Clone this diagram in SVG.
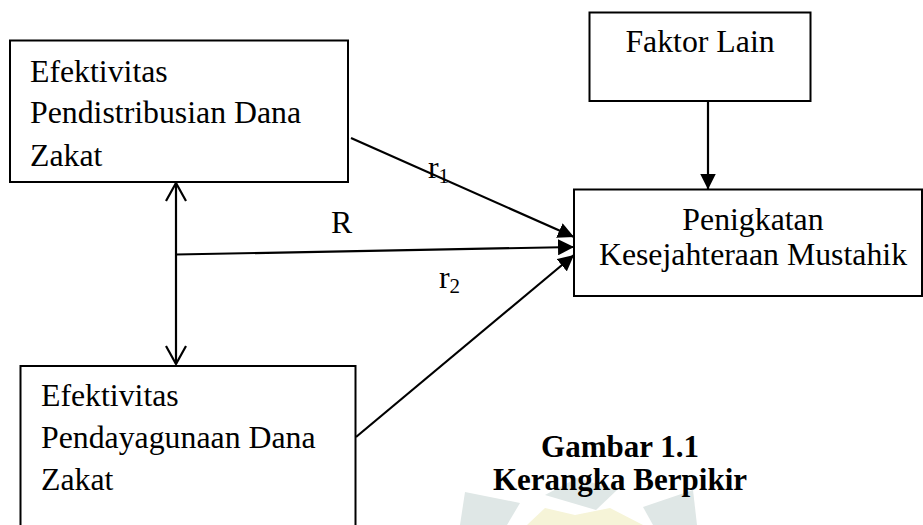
<svg xmlns="http://www.w3.org/2000/svg" width="923" height="525" viewBox="0 0 923 525">
<style>
.box{fill:none;stroke:#000;stroke-width:2}
.t{font-family:"Liberation Serif","Times New Roman",serif;font-size:31.8px;fill:#000}
.b{font-weight:bold;font-size:31px}
.c{stroke:#000;stroke-width:2.2;fill:none}
.sub{font-size:21px}
</style>
<defs>
<marker id="fa" viewBox="0 0 16 16" refX="16" refY="8" markerWidth="16" markerHeight="16" markerUnits="userSpaceOnUse" orient="auto">
<path d="M0,0 L16,8 L0,16 Z" fill="#000"/>
</marker>
<marker id="oa" viewBox="0 0 20 22" refX="19" refY="11" markerWidth="20" markerHeight="22" markerUnits="userSpaceOnUse" orient="auto-start-reverse">
<path d="M1,1 L19,11 L1,21" fill="none" stroke="#000" stroke-width="2.2"/>
</marker>
</defs>
<g id="watermark">
<polygon points="465,492 520,503 507,525 460,525" fill="#dfe7e6"/>
<polygon points="577,478 617,490 596,510 545,495" fill="#dfe7e6"/>
<polygon points="643,507 693,490 697,525 653,525" fill="#dfe7e6"/>
<polygon points="527,525 545,508 575,515 610,508 643,525" fill="#f6f4d8"/>
</g>
<g id="node-pendistribusian">
<rect class="box" x="10" y="40.5" width="338" height="141.5"/>
<text class="t" x="30" y="82">Efektivitas</text>
<text class="t" x="30" y="123">Pendistribusian Dana</text>
<text class="t" x="30" y="166">Zakat</text>
</g>
<g id="node-pendayagunaan">
<rect class="box" x="20.5" y="366" width="335" height="170"/>
<text class="t" x="41" y="406">Efektivitas</text>
<text class="t" x="41" y="448">Pendayagunaan Dana</text>
<text class="t" x="41" y="490">Zakat</text>
</g>
<g id="node-faktor">
<rect class="box" x="589.5" y="12.5" width="221" height="88.5"/>
<text class="t" x="700" y="52" text-anchor="middle">Faktor Lain</text>
</g>
<g id="node-kesejahteraan">
<rect class="box" x="574" y="189.5" width="348" height="106.5"/>
<text class="t" x="753" y="230" text-anchor="middle">Penigkatan</text>
<text class="t" x="753" y="265" text-anchor="middle">Kesejahteraan Mustahik</text>
</g>
<g id="connectors">
<line class="c" x1="176" y1="183" x2="176" y2="364" marker-start="url(#oa)" marker-end="url(#oa)"/>
<line class="c" x1="176" y1="254.5" x2="574" y2="247" marker-end="url(#fa)"/>
<line class="c" x1="351" y1="138" x2="574" y2="237" marker-end="url(#fa)"/>
<line class="c" x1="356" y1="437" x2="574" y2="255" marker-end="url(#fa)"/>
<line class="c" x1="708" y1="101" x2="708" y2="189.5" marker-end="url(#fa)"/>
</g>
<g id="labels">
<text class="t" x="428" y="178">r<tspan class="sub" dy="5">1</tspan></text>
<text class="t" x="331" y="233">R</text>
<text class="t" x="439" y="288">r<tspan class="sub" dy="5">2</tspan></text>
<text class="t b" x="620" y="457" text-anchor="middle">Gambar 1.1</text>
<text class="t b" x="620" y="490" text-anchor="middle">Kerangka Berpikir</text>
</g>
</svg>
